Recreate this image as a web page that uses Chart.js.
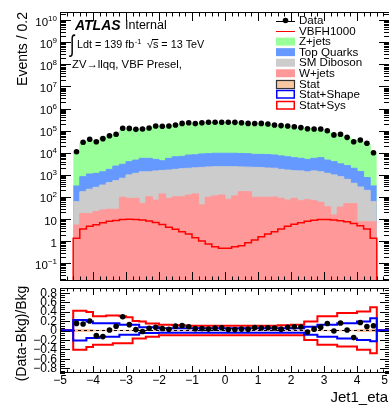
<!DOCTYPE html>
<html>
<head>
<meta charset="utf-8">
<script src="https://cdn.jsdelivr.net/npm/chart.js@4.4.0/dist/chart.umd.min.js"></script>
<style>
  html, body { margin: 0; padding: 0; background: #fff; overflow: hidden; }
  #wrap { position: relative; width: 389px; height: 408px; overflow: hidden; background: #fff; }
  canvas { position: absolute; left: 0; }
  #main { top: 0; }
  #ratio { top: 280px; }
</style>
</head>
<body>
<div id="wrap">
  <canvas id="main" width="400" height="286"></canvas>
  <canvas id="ratio" width="400" height="128"></canvas>
</div>
<script>
// --- binning (Jet1_eta, 0.2 wide bins) ---
const binEdges = [-4.6, -4.4, -4.2, -4.0, -3.8, -3.6, -3.4, -3.2, -3.0, -2.8, -2.6, -2.4, -2.2, -2.0,
  -1.8, -1.6, -1.4, -1.2, -1.0, -0.8, -0.6, -0.4, -0.2, 0, 0.2, 0.4, 0.6, 0.8, 1.0, 1.2, 1.4, 1.6,
  1.8, 2.0, 2.2, 2.4, 2.6, 2.8, 3.0, 3.2, 3.4, 3.6, 3.8, 4.0, 4.2, 4.4, 4.6];

// --- series (events per bin) ---
const dataCounts = [11200, 30200, 40700, 31600, 43600, 58900, 69200, 128800, 127000, 114800, 120200,
  131800, 162200, 160000, 163000, 182000, 213800, 229000, 209000, 229000, 240000, 240000, 241000,
  240000, 239000, 229000, 214000, 213000, 214000, 199500, 182000, 170000, 162000, 151000, 138000,
  123000, 120000, 120000, 100000, 64600, 69200, 50100, 31600, 38000, 26900, 10000];
const zjets = [9420, 25700, 32800, 34300, 48700, 56500, 61000, 96800, 109000, 108000, 117000, 120000,
  147000, 149000, 153000, 160000, 187000, 204000, 193000, 211000, 224000, 219000, 218000, 226000,
  225000, 213000, 199000, 192000, 195000, 180000, 165000, 158000, 145000, 134000, 123000, 122000,
  111000, 106000, 82300, 61300, 56500, 47000, 35200, 31100, 24100, 8780];
const topQuarks = [254, 658, 872, 900, 1030, 1330, 1960, 2310, 2980, 3500, 4240, 4240, 3500, 2780,
  3960, 4830, 5010, 5950, 6040, 6730, 6830, 7210, 7210, 7210, 7210, 7040, 6880, 6320, 6370, 6280,
  5950, 5470, 4950, 4480, 4110, 3630, 4110, 4650, 3500, 2980, 2330, 2000, 1580, 1130, 559, 254];
const smDiboson = [56, 156, 206, 253, 321, 419, 522, 610, 913, 1090, 1330, 1280, 1440, 1450, 1570,
  1680, 1800, 1870, 1950, 2140, 2190, 2230, 2220, 2270, 2230, 2120, 2070, 2090, 2040, 1940, 1900,
  1690, 1590, 1460, 1450, 1300, 1450, 1320, 1140, 985, 797, 581, 367, 274, 192, 54];
const wjets = [5.4, 18, 18, 22, 26, 28, 28, 98, 87, 87, 51, 102, 72, 138, 87, 102, 102, 123, 138, 44,
  98, 112, 123, 79, 112, 174, 174, 98, 98, 98, 100, 87, 72, 87, 68, 76, 68, 58, 36, 15.5, 35, 50, 50,
  7.6, 7.6, 7.6];
const vbfh1000 = [1.35, 3.55, 4.79, 5.50, 6.76, 7.94, 8.71, 9.55, 9.77, 9.55, 9.12, 8.13, 7.08, 5.75,
  4.27, 3.47, 2.69, 2.14, 1.45, 1.02, 0.74, 0.56, 0.48, 0.48, 0.56, 0.63, 0.85, 1.12, 1.58, 2.14, 2.69,
  3.55, 4.79, 5.89, 6.92, 7.94, 8.91, 9.55, 9.55, 9.12, 8.51, 7.59, 6.31, 5.01, 3.55, 1.35];

// --- relative uncertainty bands (ratio panel) ---
const statSysUp = [0.42, 0.42, 0.39, 0.30, 0.30, 0.32, 0.32, 0.30, 0.28, 0.20, 0.19, 0.15, 0.15, 0.12,
  0.12, 0.11, 0.11, 0.10, 0.10, 0.10, 0.10, 0.10, 0.10, 0.10, 0.10, 0.10, 0.10, 0.10, 0.10, 0.10, 0.10,
  0.11, 0.11, 0.12, 0.12, 0.19, 0.19, 0.30, 0.30, 0.30, 0.37, 0.37, 0.37, 0.40, 0.40, 0.49];
const statSysDown = [-0.41, -0.41, -0.35, -0.30, -0.30, -0.30, -0.27, -0.27, -0.27, -0.17, -0.17, -0.13,
  -0.13, -0.10, -0.10, -0.10, -0.10, -0.10, -0.10, -0.10, -0.10, -0.10, -0.10, -0.10, -0.10, -0.10,
  -0.10, -0.10, -0.10, -0.10, -0.10, -0.10, -0.10, -0.10, -0.10, -0.20, -0.20, -0.30, -0.30, -0.30,
  -0.34, -0.34, -0.34, -0.41, -0.41, -0.48];
const statShapeUp = [0.22, 0.22, 0.19, 0.155, 0.155, 0.155, 0.155, 0.12, 0.12, 0.12, 0.07, 0.07, 0.07,
  0.05, 0.05, 0.05, 0.05, 0.05, 0.05, 0.05, 0.05, 0.05, 0.05, 0.05, 0.05, 0.05, 0.05, 0.05, 0.05, 0.05,
  0.05, 0.05, 0.05, 0.05, 0.05, 0.08, 0.08, 0.12, 0.12, 0.12, 0.155, 0.155, 0.155, 0.19, 0.19, 0.26];
const statShapeDown = [-0.21, -0.21, -0.16, -0.16, -0.13, -0.13, -0.13, -0.09, -0.09, -0.09, -0.055,
  -0.055, -0.055, -0.05, -0.05, -0.05, -0.05, -0.05, -0.05, -0.05, -0.05, -0.05, -0.05, -0.05, -0.05,
  -0.05, -0.05, -0.05, -0.05, -0.05, -0.05, -0.05, -0.05, -0.05, -0.05, -0.09, -0.09, -0.13, -0.13,
  -0.13, -0.17, -0.17, -0.17, -0.20, -0.20, -0.23];
const statOnly = [0.03, 0.03, 0.03, 0.018, 0.018, 0.018, 0.018, 0.018, 0.018, 0.018, 0.018, 0.018,
  0.018, 0.018, 0.018, 0.018, 0.018, 0.018, 0.018, 0.018, 0.018, 0.018, 0.018, 0.018, 0.018, 0.018,
  0.018, 0.018, 0.018, 0.018, 0.018, 0.018, 0.018, 0.018, 0.018, 0.018, 0.018, 0.018, 0.018, 0.018,
  0.018, 0.018, 0.018, 0.03, 0.03, 0.03];

// --- axes ---
const xTickValues = [-5, -4, -3, -2, -1, 0, 1, 2, 3, 4, 5];
const xTickLabels = ['\u22125', '\u22124', '\u22123', '\u22122', '\u22121', '0', '1', '2', '3', '4', '5'];
const yDecades = [-1, 0, 1, 2, 3, 4, 5, 6, 7, 8, 9, 10];
const ratioTickValues = [-0.8, -0.6, -0.4, -0.2, 0, 0.2, 0.4, 0.6, 0.8];
const ratioTickLabels = ['\u22120.8', '\u22120.6', '\u22120.4', '\u22120.2', '0', '0.2', '0.4', '0.6', '0.8'];
const Y_MIN = 0.0158, Y_MAX = 2.35e10;

const FONT = '"Liberation Sans", Arial, Helvetica, sans-serif';
const C_Z = '#99ff99', C_TOP = '#6699ff', C_DIB = '#cccccc', C_W = '#ff9999';

// stack sums (ROOT THStack style: each layer drawn as its cumulative total)
const cumW = wjets.slice();
const cumDib = cumW.map((v, i) => v + smDiboson[i]);
const cumTop = cumDib.map((v, i) => v + topQuarks[i]);
const cumZ = cumTop.map((v, i) => v + zjets[i]);
const ratio = dataCounts.map((d, i) => (d - cumZ[i]) / cumZ[i]);
const binCenters = binEdges.slice(0, -1).map((e, i) => (e + binEdges[i + 1]) / 2);

// stepped outline; with pad, the outline also runs along "pad" outside the binned range
function stepPoints(vals, pad) {
  const pts = binEdges.map((x, i) => ({ x, y: vals[Math.min(i, vals.length - 1)] }));
  if (pad !== undefined) {
    pts.unshift({ x: -5, y: pad });
    pts[pts.length - 1] = { x: binEdges[binEdges.length - 1], y: pad };
    pts.push({ x: 5, y: pad });
  }
  return pts;
}

function drawTicks(ctx, a, xt, yt) {
  ctx.beginPath();
  xt.forEach(t => {
    const p = Math.round(t.p) + 0.5;
    ctx.moveTo(p, a.bottom); ctx.lineTo(p, a.bottom - t.len);
    ctx.moveTo(p, a.top); ctx.lineTo(p, a.top + t.len);
  });
  yt.forEach(t => {
    const p = Math.round(t.p) + 0.5;
    ctx.moveTo(a.left, p); ctx.lineTo(a.left + t.len, p);
    ctx.moveTo(a.right, p); ctx.lineTo(a.right - t.len, p);
  });
  ctx.stroke();
  ctx.strokeRect(a.left + 0.5, a.top + 0.5, a.right - a.left - 1, a.bottom - a.top - 1);
}

function xMinorTicks(scale, maj, min) {
  const out = [];
  for (let k = -25; k <= 25; k++) out.push({ p: scale.getPixelForValue(k / 5), len: k % 5 === 0 ? maj : min });
  return out;
}

function drawPow(ctx, k, xr, py) {
  ctx.textAlign = 'left';
  ctx.textBaseline = 'alphabetic';
  const base = k === 0 ? '1' : '10';
  const sup = (k === 0 || k === 1) ? '' : (k < 0 ? '\u2212' + (-k) : String(k));
  ctx.font = '11.5px ' + FONT;
  const wb = ctx.measureText(base).width;
  ctx.font = '8px ' + FONT;
  const ws = sup ? ctx.measureText(sup).width : 0;
  const x0 = xr - wb - ws;
  ctx.font = '11.5px ' + FONT;
  ctx.fillText(base, x0, py + 5.5);
  if (sup) {
    ctx.font = '8px ' + FONT;
    ctx.fillText(sup, x0 + wb, py + 0.5);
  }
}

const legendEntries = [
  { label: 'Data', kind: 'data' },
  { label: 'VBFH1000', kind: 'line', color: '#ff0000' },
  { label: 'Z+jets', kind: 'box', color: C_Z },
  { label: 'Top Quarks', kind: 'box', color: C_TOP },
  { label: 'SM Diboson', kind: 'box', color: C_DIB },
  { label: 'W+jets', kind: 'box', color: C_W },
  { label: 'Stat', kind: 'box', color: '#f8c8a0', edge: '#333' },
  { label: 'Stat+Shape', kind: 'outline', color: '#0000ff' },
  { label: 'Stat+Sys', kind: 'outline', color: '#ff0000' }
];

const mainDecor = {
  id: 'mainDecor',
  afterDraw(chart) {
    const { ctx, chartArea: a, scales: { x, y } } = chart;
    ctx.save();
    ctx.strokeStyle = '#000';
    ctx.lineWidth = 1;
    const yt = [];
    for (let e = -2; e <= 10; e++) {
      for (let m = 1; m <= 9; m++) {
        const v = m * Math.pow(10, e);
        if (v < Y_MIN || v > Y_MAX) continue;
        yt.push({ p: y.getPixelForValue(v), len: m === 1 ? 11 : 6 });
      }
    }
    drawTicks(ctx, a, xMinorTicks(x, 9, 4.5), yt);

    ctx.fillStyle = '#000';
    yDecades.forEach(k => drawPow(ctx, k, 57, y.getPixelForValue(Math.pow(10, k))));

    // y title
    ctx.save();
    ctx.translate(23, a.top);
    ctx.rotate(-Math.PI / 2);
    ctx.font = '14px ' + FONT;
    ctx.textAlign = 'right';
    ctx.textBaseline = 'middle';
    ctx.fillText('Events / 0.2', 0, 0);
    ctx.restore();

    // ATLAS label block
    ctx.textAlign = 'left';
    ctx.textBaseline = 'middle';
    ctx.font = 'italic bold 14px ' + FONT;
    ctx.fillText('ATLAS', 75, 26);
    ctx.font = '12.5px ' + FONT;
    ctx.fillText('Internal', 125, 26);

    ctx.save();
    ctx.translate(70, 45.5);
    ctx.scale(1.1, 1.6);
    ctx.font = '15px ' + FONT;
    ctx.fillText('\u222B', 0, 0);
    ctx.restore();
    ctx.font = '10.8px ' + FONT;
    const lumi = 'Ldt = 139 fb';
    ctx.fillText(lumi, 77, 45.5);
    const lw = ctx.measureText(lumi).width;
    ctx.font = '7.5px ' + FONT;
    ctx.fillText('-1', 77 + lw + 0.5, 41.5);
    ctx.font = '10.8px ' + FONT;
    const sx = 147;
    ctx.fillText('\u221A', sx, 45.5);
    const rw = ctx.measureText('\u221A').width;
    ctx.fillText('s = 13 TeV', sx + rw, 45.5);
    const sw = ctx.measureText('s').width;
    ctx.beginPath();
    ctx.moveTo(sx + rw - 1, 39.5);
    ctx.lineTo(sx + rw + sw, 39.5);
    ctx.stroke();
    ctx.font = '11.3px ' + FONT;
    ctx.fillText('ZV\u2192llqq, VBF Presel,', 72, 64.5);

    // legend
    legendEntries.forEach((e, i) => {
      const yy = 20.5 + i * 10.55;
      const lx = 276, lwid = 19;
      if (e.kind === 'data') {
        ctx.strokeStyle = '#000';
        ctx.lineWidth = 1;
        ctx.beginPath();
        ctx.moveTo(lx, Math.round(yy) + 0.5); ctx.lineTo(lx + lwid, Math.round(yy) + 0.5);
        ctx.stroke();
        ctx.beginPath();
        ctx.arc(lx + lwid / 2, yy, 2.8, 0, Math.PI * 2);
        ctx.fill();
      } else if (e.kind === 'line') {
        ctx.strokeStyle = e.color;
        ctx.lineWidth = 1;
        ctx.beginPath();
        ctx.moveTo(lx, Math.round(yy) + 0.5); ctx.lineTo(lx + lwid, Math.round(yy) + 0.5);
        ctx.stroke();
      } else if (e.kind === 'box') {
        ctx.fillStyle = e.color;
        ctx.fillRect(lx, yy - 4, lwid, 8);
        if (e.edge) {
          ctx.strokeStyle = e.edge;
          ctx.lineWidth = 1.2;
          ctx.strokeRect(lx + 0.5, Math.round(yy - 4) + 0.5, lwid - 1, 8);
        }
      } else {
        ctx.strokeStyle = e.color;
        ctx.lineWidth = 1.5;
        ctx.strokeRect(lx + 0.75, Math.round(yy - 4) + 0.5, lwid - 1.5, 7.5);
      }
      ctx.fillStyle = '#000';
      ctx.font = '11.6px ' + FONT;
      ctx.textBaseline = 'middle';
      ctx.fillText(e.label, 299, yy + 0.5);
    });
    ctx.restore();
  }
};

const ratioDecor = {
  id: 'ratioDecor',
  afterDraw(chart) {
    const { ctx, chartArea: a, scales: { x, y } } = chart;
    ctx.save();
    ctx.strokeStyle = '#000';
    ctx.lineWidth = 1;
    const yt = [];
    for (let k = -18; k <= 18; k++) yt.push({ p: y.getPixelForValue(k / 20), len: k % 4 === 0 ? 10 : 5 });
    drawTicks(ctx, a, xMinorTicks(x, 7, 3.5), yt);

    ctx.fillStyle = '#000';
    ctx.font = '12px ' + FONT;
    ctx.textAlign = 'right';
    ctx.textBaseline = 'middle';
    ratioTickValues.forEach((v, i) => ctx.fillText(ratioTickLabels[i], 57, y.getPixelForValue(v) + 0.5));

    ctx.textAlign = 'center';
    xTickValues.forEach((v, i) => {
      const w = ctx.measureText(xTickLabels[i]).width;
      const px = Math.min(x.getPixelForValue(v), 388 - w / 2);
      ctx.fillText(xTickLabels[i], px, a.bottom + 7.5);
    });

    ctx.font = '15px ' + FONT;
    ctx.textAlign = 'right';
    ctx.fillText('Jet1_eta', 388, a.bottom + 25);

    ctx.save();
    ctx.translate(22, (a.top + a.bottom) / 2 + 3);
    ctx.rotate(-Math.PI / 2);
    ctx.font = '14px ' + FONT;
    ctx.textAlign = 'center';
    ctx.fillText('(Data-Bkg)/Bkg', 0, 0);
    ctx.restore();
    ctx.restore();
  }
};

const commonOpts = (padding, yScale) => ({
  responsive: false,
  animation: false,
  layout: { padding },
  scales: {
    x: { type: 'linear', min: -5, max: 5, display: false },
    y: yScale
  },
  plugins: { legend: { display: false }, tooltip: { enabled: false } },
  elements: { line: { tension: 0 }, point: { radius: 0 } }
});

new Chart(document.getElementById('main'), {
  type: 'line',
  data: {
    datasets: [
      { label: 'Data', data: binCenters.map((x, i) => ({ x, y: dataCounts[i] })), showLine: false,
        pointRadius: 2.8, pointBackgroundColor: '#000', pointBorderWidth: 0 },
      { label: 'VBFH1000', data: stepPoints(vbfh1000, Y_MIN), stepped: true, borderColor: '#ff0000',
        borderWidth: 1.5, fill: false },
      { label: 'W+jets', data: stepPoints(cumW), stepped: true, borderColor: C_W, backgroundColor: C_W,
        borderWidth: 1, fill: 'start' },
      { label: 'SM Diboson', data: stepPoints(cumDib), stepped: true, borderColor: C_DIB, backgroundColor: C_DIB,
        borderWidth: 1, fill: 'start' },
      { label: 'Top Quarks', data: stepPoints(cumTop), stepped: true, borderColor: C_TOP, backgroundColor: C_TOP,
        borderWidth: 1, fill: 'start' },
      { label: 'Z+jets', data: stepPoints(cumZ), stepped: true, borderColor: C_Z, backgroundColor: C_Z,
        borderWidth: 1, fill: 'start' }
    ]
  },
  options: commonOpts({ left: 60, right: 10, top: 12, bottom: 5 },
    { type: 'logarithmic', min: Y_MIN, max: Y_MAX, display: false }),
  plugins: [mainDecor]
});

new Chart(document.getElementById('ratio'), {
  type: 'line',
  data: {
    datasets: [
      { label: 'Data', data: binCenters.map((x, i) => ({ x, y: ratio[i] })), showLine: false,
        pointRadius: 2.8, pointBackgroundColor: '#000', pointBorderWidth: 0 },
      { label: 'Stat+Shape up', data: stepPoints(statShapeUp, 0), stepped: true, borderColor: '#0000ff', borderWidth: 2 },
      { label: 'Stat+Shape down', data: stepPoints(statShapeDown, 0), stepped: true, borderColor: '#0000ff', borderWidth: 2 },
      { label: 'zero', data: [{ x: -5, y: 0 }, { x: 5, y: 0 }], borderColor: '#000', borderWidth: 1.2, borderDash: [3, 3] },
      { label: 'Stat+Sys up', data: stepPoints(statSysUp, 0), stepped: true, borderColor: '#ff0000', borderWidth: 2 },
      { label: 'Stat+Sys down', data: stepPoints(statSysDown, 0), stepped: true, borderColor: '#ff0000', borderWidth: 2 },
      { label: 'Stat up', data: stepPoints(statOnly), stepped: true, borderColor: 'rgba(0,0,0,0)',
        backgroundColor: 'rgba(255,170,120,0.75)', fill: '+1' },
      { label: 'Stat down', data: stepPoints(statOnly.map(v => -v)), stepped: true, borderColor: 'rgba(0,0,0,0)' }
    ]
  },
  options: commonOpts({ left: 60, right: 10, top: 8, bottom: 35 },
    { type: 'linear', min: -0.9, max: 0.9, display: false }),
  plugins: [ratioDecor]
});
</script>
</body>
</html>
